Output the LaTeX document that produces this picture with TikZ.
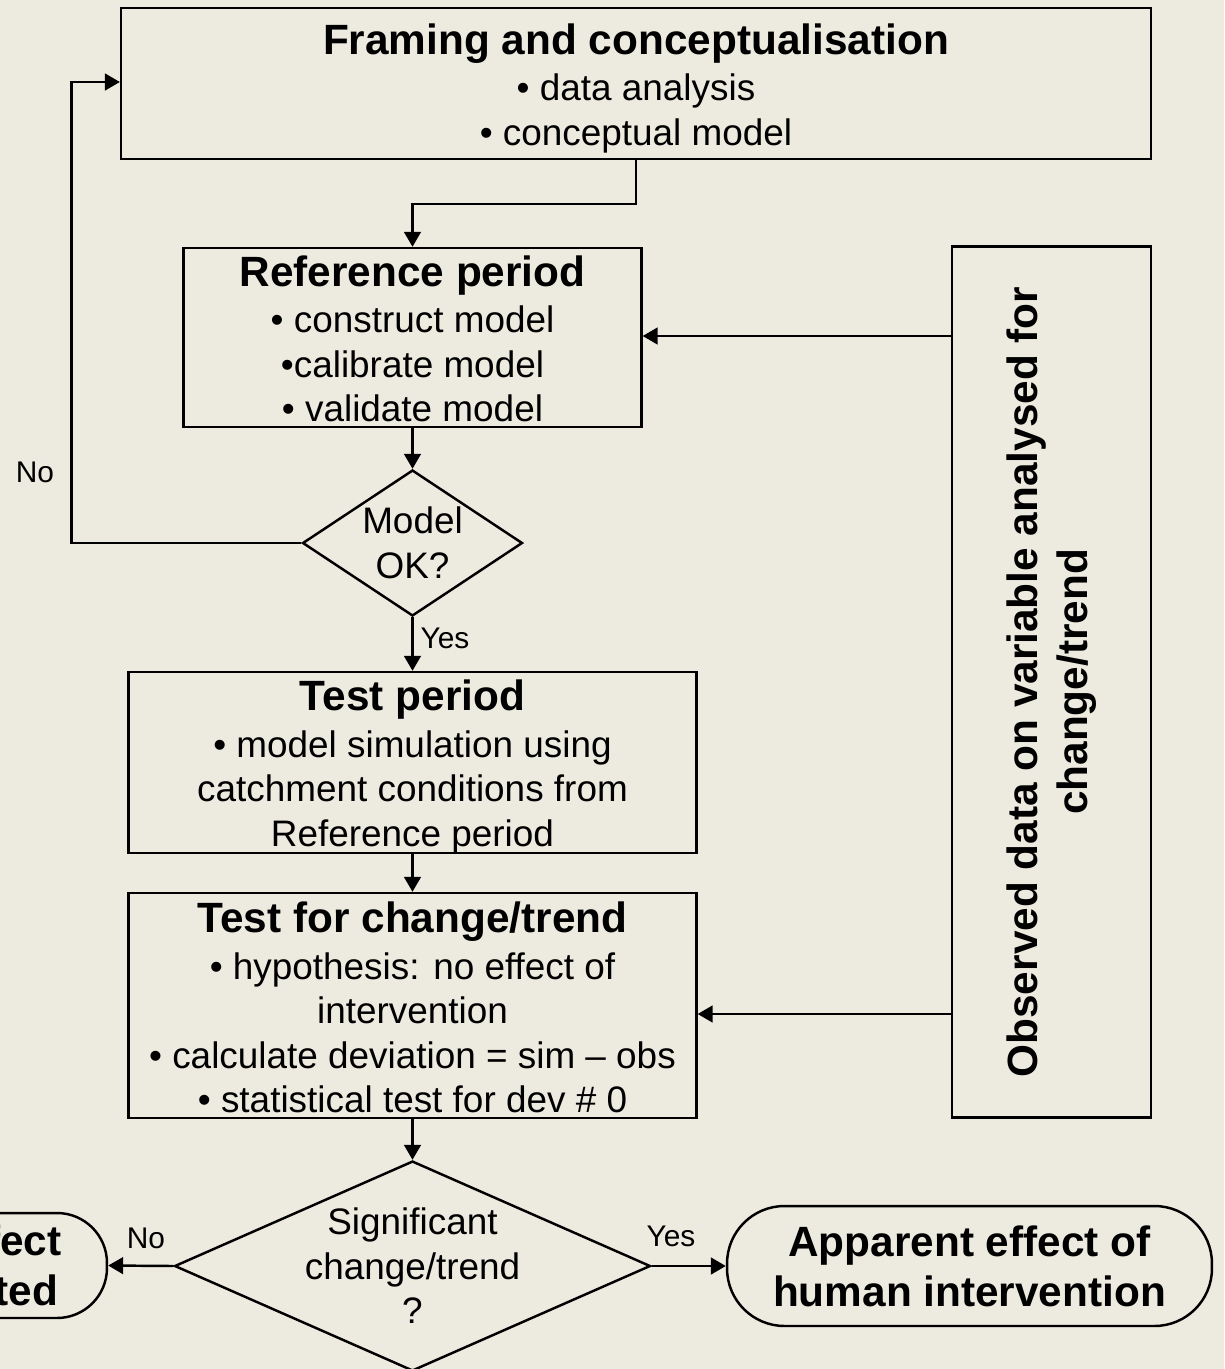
\documentclass[tikz,border=0pt]{standalone}
\usepackage{fontspec}
\setmainfont{Liberation Sans}
\usetikzlibrary{shapes.geometric,arrows.meta,calc}
\definecolor{bg}{RGB}{237,235,224}

% type sizes: body text, bold headings, connector tags
\newcommand\bdfont{\fontsize{21}{25.3}\selectfont}
\newcommand\hdfont{\bfseries\fontsize{24.1}{28.5}\selectfont}
\newcommand\lbfont{\fontsize{17}{20}\selectfont}

\tikzset{
  box/.style={draw, line width=1.4pt, rectangle, inner sep=0pt},
  boxtext/.style={font=\bdfont, align=center, inner sep=0pt},
  terminal/.style={draw, line width=1.4pt, rectangle, align=center, inner sep=0pt, font=\hdfont},
  decision/.style={draw, line width=1.4pt, diamond, inner sep=0pt},
  arr/.style={line width=1.4pt, -{Triangle[length=8.5pt,width=9.5pt]}},
  tag/.style={font=\lbfont, inner sep=0pt},
}

\begin{document}
\begin{tikzpicture}[x=0.02cm, y=-0.02cm]
  % page frame and background
  \fill[bg] (0,0) rectangle (1224,1369);
  \useasboundingbox (0,0) rectangle (1224,1369);

  % process boxes (text set as a centred label, nudged down a little)
  \node[box, minimum width=20.6cm, minimum height=3.02cm,
        label={[boxtext, yshift=-0.09cm]center:{\hdfont Framing and conceptualisation}\\[1.2pt]
               • data analysis\\ • conceptual model}]
        (fr) at (636,83.5) {};

  \node[box, minimum width=9.16cm, minimum height=3.58cm,
        label={[boxtext, yshift=-0.03cm]center:{\hdfont Reference period}\\[1.2pt]
               • construct model\\ •calibrate model\\ • validate model}]
        (ref) at (412.5,337.5) {};

  \node[box, minimum width=3.98cm, minimum height=17.42cm,
        label={[rotate=90, font=\hdfont, align=center]center:Observed data on variable analysed for\\change/trend}]
        (obs) at (1051.5,682) {};

  \node[decision, minimum width=4.4cm, minimum height=2.92cm,
        label={[font=\bdfont, align=center]center:Model\\OK?}]
        (d1) at (412.5,543) {};

  \node[box, minimum width=11.36cm, minimum height=3.62cm,
        label={[boxtext, yshift=-0.09cm]center:{\hdfont Test period}\\[1.2pt]
               • model simulation using\\ catchment conditions from\\ Reference period}]
        (tp) at (412.5,762.5) {};

  \node[box, minimum width=11.36cm, minimum height=4.5cm,
        label={[boxtext, yshift=-0.04cm]center:{\hdfont Test for change/trend}\\[1.2pt]
               • hypothesis: no effect of\\ intervention\\
               • calculate deviation = sim – obs\\ • statistical test for dev \# 0}]
        (tc) at (412.5,1005.5) {};

  \node[decision, minimum width=9.52cm, minimum height=4.2cm,
        label={[font=\bdfont, align=center]center:Significant\\change/trend\\?}]
        (d2) at (412.5,1266) {};

  % outcomes
  \node[terminal, minimum width=5.44cm, minimum height=2.1cm, rounded corners=1.0cm]
    (nodet) at (-29,1265.5) {No effect\\detected};
  \node[terminal, minimum width=9.7cm, minimum height=2.4cm, rounded corners=1.15cm]
    (app) at (969.5,1266) {Apparent effect of\\human intervention};

  % connectors
  \draw[arr] (fr.south) -- ++(0,44) -| (ref.north);
  \draw[arr] ($(obs.west |- ref.east)+(0,-1.5)$) -- ($(ref.east)+(0,-1.5)$);
  \draw[arr] (ref.south) -- (d1.north);
  \draw[arr] (d1.west) -- ++(-230,0) |- ($(fr.west)+(0,-1.5)$);
  \draw[arr] (d1.south) -- (tp.north);
  \draw[arr] (tp.south) -- (tc.north);
  \draw[arr] ($(obs.west |- tc.east)+(0,8.5)$) -- ($(tc.east)+(0,8.5)$);
  \draw[arr] (tc.south) -- (d2.north);
  \draw[arr] (d2.west) -- (nodet.east);
  \draw[arr] (d2.east) -- (app.west);

  % branch tags
  \node[tag] (no1) at (35,472) {No};
  \node[tag] (yes1) at (445,638) {Yes};
  \node[tag] (no2) at (146,1238) {No};
  \node[tag] (yes2) at (671,1236) {Yes};
\end{tikzpicture}
\end{document}
